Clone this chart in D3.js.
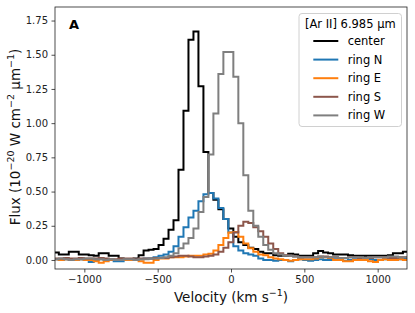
<!DOCTYPE html>
<html>
<head>
<meta charset="utf-8">
<script src="https://cdn.jsdelivr.net/npm/d3@7"></script>
<style>
  body { margin: 0; background: #fff; }
  svg { font-family: "DejaVu Sans", sans-serif; }
</style>
</head>
<body>
<div id="chartContainer"></div>
<script>
// velocity bin centres (km/s)
const velocity = [
  -1225, -1191, -1157, -1123, -1089, -1055, -1021, -987, -953, -919,
  -885, -851, -817, -783, -749, -715, -681, -647, -613, -579,
  -545, -511, -477, -443, -409, -375, -341, -307, -273, -239,
  -205, -171, -137, -103, -69, -35, -1, 33, 67, 101,
  135, 169, 203, 237, 271, 305, 339, 373, 407, 441,
  475, 509, 543, 577, 611, 645, 679, 713, 747, 781,
  815, 849, 883, 917, 951, 985, 1019, 1053, 1087, 1121,
  1155, 1189, 1223
];

// flux per region (1e-20 W cm^-2 um^-1)
const fluxCenter = [
  0.06, 0.055, 0.04, 0.04, 0.06, 0.06, 0.04, 0.04, 0.035, 0.03,
  0.05, 0.05, 0.03, 0.03, 0.01, 0.005, 0.0, 0.01, 0.035, 0.07,
  0.075, 0.08, 0.11,
  0.155, 0.22, 0.29, 0.66, 1.09, 1.61, 1.67, 1.27, 0.79, 0.49,
  0.44, 0.37, 0.30, 0.23, 0.17, 0.13, 0.11, 0.09, 0.08, 0.06,
  0.05, 0.05, 0.035, 0.03, 0.03, 0.045,
  0.04, 0.03, 0.03, 0.03, 0.05, 0.065, 0.055, 0.05, 0.04, 0.04,
  0.04, 0.035, 0.03, 0.03, 0.03, 0.03, 0.03, 0.03, 0.03, 0.035,
  0.05, 0.05, 0.06, 0.06
];

const fluxN = [
  0.01, 0.005, 0.0, 0.005, 0.0, 0.0, 0.005, 0.0, -0.015, 0.0,
  0.005, 0.0, 0.0, -0.01, -0.01, 0.0, 0.0, 0.005, 0.005, 0.01,
  0.01, 0.02, 0.03,
  0.04, 0.06, 0.10, 0.17, 0.24, 0.31, 0.36, 0.43, 0.48, 0.49,
  0.45, 0.38, 0.30, 0.20, 0.10, 0.07, 0.05, 0.04, 0.03, 0.01,
  0.0, 0.0, -0.005, 0.0, 0.0, -0.01,
  0.0, 0.005, 0.0, -0.005, 0.0, 0.005, 0.0, 0.0, 0.005, 0.0,
  -0.005, 0.0, 0.005, 0.0, 0.0, 0.005, 0.0, 0.0, 0.005, 0.01,
  0.0, 0.005, 0.01, 0.01
];

const fluxE = [
  0.01, 0.005, 0.0, 0.005, 0.0, 0.0, 0.005, 0.0, 0.0, -0.01,
  -0.02, -0.01, 0.0, 0.0, 0.005, 0.0, 0.0, 0.0, -0.01, -0.02,
  -0.02, 0.0, 0.01,
  0.01, 0.02, 0.02, 0.02, 0.025, 0.03, 0.03, 0.03, 0.04, 0.045,
  0.07, 0.11, 0.16, 0.20, 0.205, 0.17, 0.12, 0.085, 0.06, 0.04,
  0.035, 0.02, 0.01, 0.005, 0.0, -0.005,
  0.0, 0.005, 0.005, 0.005, 0.01, 0.02, 0.02, 0.015, 0.0, 0.0,
  -0.01, -0.01, 0.0, 0.0, 0.0, -0.01, -0.015, 0.0, 0.005, 0.0,
  0.0, 0.005, 0.0, 0.0
];

const fluxS = [
  0.005, 0.01, 0.01, 0.015, 0.01, 0.01, 0.015, 0.01, 0.01, 0.01,
  0.015, 0.01, 0.005, 0.005, 0.01, 0.01,
  0.01, 0.005, 0.01, 0.01, 0.01, 0.015, 0.015, 0.015, 0.02, 0.025,
  0.03, 0.03, 0.025, 0.02,
  0.02, 0.025, 0.03, 0.04, 0.06, 0.09, 0.13, 0.20, 0.25, 0.28,
  0.27, 0.24, 0.21, 0.17, 0.12, 0.08, 0.05, 0.035, 0.03, 0.025,
  0.02, 0.02, 0.02, 0.02, 0.025, 0.025, 0.02, 0.02, 0.015, 0.015,
  0.02, 0.02, 0.015, 0.015, 0.015, 0.02, 0.02, 0.02, 0.015, 0.015,
  0.02, 0.02, 0.02
];

const fluxW = [
  0.01, 0.005, 0.01, 0.005, 0.0, 0.005, 0.005, 0.01, 0.01, 0.005,
  0.005, 0.0, 0.005, 0.0, 0.0, 0.005, 0.005, 0.0, 0.005, 0.005,
  0.01, 0.01, 0.015,
  0.02, 0.03, 0.05, 0.085, 0.12, 0.16, 0.23, 0.35, 0.46, 0.77,
  1.07, 1.36, 1.52, 1.52, 1.34, 1.00, 0.62, 0.36, 0.25, 0.17,
  0.11, 0.075, 0.05, 0.04, 0.03, 0.03,
  0.025, 0.02, 0.02, 0.02, 0.02, 0.025, 0.02, 0.02, 0.02, 0.015,
  0.015, 0.02, 0.02, 0.02, 0.015, 0.02, 0.02, 0.02, 0.02, 0.025,
  0.025, 0.02, 0.02, 0.02
];

const seriesNames = ["center", "ring N", "ring E", "ring S", "ring W"];
const seriesColors = ["#000000", "#1f77b4", "#ff7f0e", "#8c564b", "#7f7f7f"];
const seriesValues = [fluxCenter, fluxN, fluxE, fluxS, fluxW];

const xTicks = [-1000, -500, 0, 500, 1000];
const yTicks = [0, 0.25, 0.5, 0.75, 1.0, 1.25, 1.5, 1.75];

const W = 415, H = 313;
const margin = { top: 7, right: 8, bottom: 44, left: 55 };
const width = W - margin.left - margin.right;
const height = H - margin.top - margin.bottom;

const svg = d3.select("#chartContainer")
  .append("svg")
  .attr("width", W)
  .attr("height", H);

const g = svg.append("g")
  .attr("transform", `translate(${margin.left}, ${margin.top})`);

const xScale = d3.scaleLinear().domain([-1200, 1200]).range([0, width]);
const yScale = d3.scaleLinear().domain([-0.066, 1.849]).range([height, 0]);

g.append("clipPath").attr("id", "plotClip")
  .append("rect").attr("width", width).attr("height", height);

const minus = s => s.replace("-", "\u2212");

// x axis
const xAxis = g.append("g")
  .attr("transform", `translate(0, ${height})`)
  .call(d3.axisBottom(xScale).tickValues(xTicks).tickSize(3.5).tickPadding(3.5)
    .tickFormat(d => minus(d3.format("d")(d))));

// y axis
const yAxis = g.append("g")
  .call(d3.axisLeft(yScale).tickValues(yTicks).tickSize(3.5).tickPadding(3.5)
    .tickFormat(d3.format(".2f")));

[xAxis, yAxis].forEach(ax => {
  ax.select(".domain").remove();
  ax.selectAll("line").attr("stroke", "#222").attr("stroke-width", 0.8);
  ax.selectAll("text").attr("font-size", 10).attr("fill", "#222")
    .attr("font-family", "DejaVu Sans");
});

// step lines
const line = d3.line()
  .x((d, i) => xScale(velocity[i]))
  .y(d => yScale(d))
  .curve(d3.curveStep);

const plot = g.append("g").attr("clip-path", "url(#plotClip)");
seriesValues.forEach((vals, i) => {
  plot.append("path")
    .datum(vals)
    .attr("d", line)
    .attr("fill", "none")
    .attr("stroke", seriesColors[i])
    .attr("stroke-width", 2)
    .attr("stroke-linejoin", "miter");
});

// frame
g.append("rect")
  .attr("width", width).attr("height", height)
  .attr("fill", "none").attr("stroke", "#222").attr("stroke-width", 0.8);

// panel letter
g.append("text")
  .attr("x", 14).attr("y", 22)
  .attr("font-size", 13).attr("font-weight", "bold")
  .text("A");

// axis labels
const xLabel = svg.append("text")
  .attr("x", margin.left + width / 2).attr("y", 302)
  .attr("text-anchor", "middle").attr("font-size", 13.5).attr("fill", "#111");
xLabel.append("tspan").text("Velocity (km s");
xLabel.append("tspan").attr("dy", -6).attr("font-size", 9.5).text("\u22121");
xLabel.append("tspan").attr("dy", 6).text(")");

const yLabel = svg.append("text")
  .attr("transform", "translate(20, 137) rotate(-90)")
  .attr("text-anchor", "middle").attr("font-size", 13.5).attr("fill", "#111");
yLabel.append("tspan").text("Flux (10");
yLabel.append("tspan").attr("dy", -6).attr("font-size", 9.5).text("\u221220");
yLabel.append("tspan").attr("dy", 6).text(" W cm");
yLabel.append("tspan").attr("dy", -6).attr("font-size", 9.5).text("\u22122");
yLabel.append("tspan").attr("dy", 6).text(" \u03bcm");
yLabel.append("tspan").attr("dy", -6).attr("font-size", 9.5).text("\u22121");
yLabel.append("tspan").attr("dy", 6).text(")");

// legend
const legend = svg.append("g");
legend.append("rect")
  .attr("x", 299).attr("y", 13.5).attr("width", 102.5).attr("height", 113)
  .attr("rx", 3)
  .attr("fill", "#fff").attr("fill-opacity", 0.8)
  .attr("stroke", "#d0d0d0").attr("stroke-width", 1);
legend.append("text")
  .attr("x", 350.3).attr("y", 27.5)
  .attr("text-anchor", "middle").attr("font-size", 11.5)
  .text("[Ar II] 6.985 \u03bcm");

seriesNames.forEach((name, i) => {
  const yy = 41 + i * 18.6;
  legend.append("line")
    .attr("x1", 313.3).attr("x2", 338.3).attr("y1", yy).attr("y2", yy)
    .attr("stroke", seriesColors[i]).attr("stroke-width", 2);
  legend.append("text")
    .attr("x", 347.7).attr("y", yy + 4)
    .attr("font-size", 11.5)
    .text(name);
});
</script>
</body>
</html>
